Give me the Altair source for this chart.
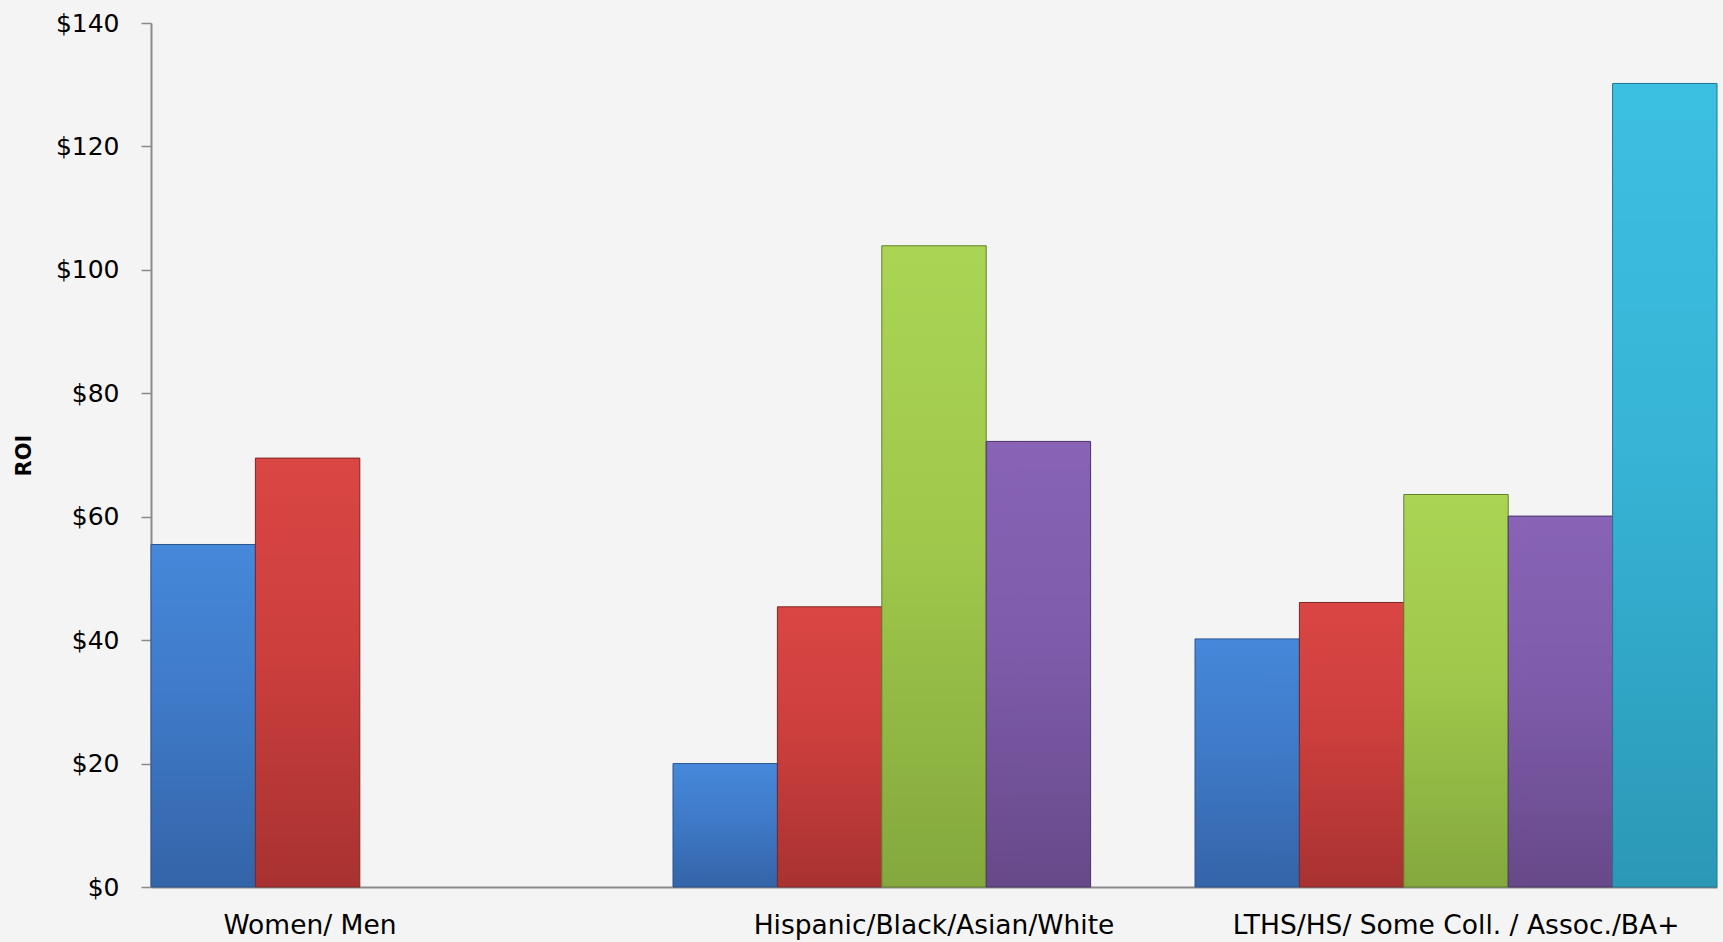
import altair as alt
import pandas as pd

groups = ["Women/ Men", "Hispanic/Black/Asian/White", "LTHS/HS/ Some Coll. / Assoc./BA+"]
slots = [1, 2, 3, 4, 5]
g1_values = [55.5, 69.5]
g2_values = [20.0, 45.4, 103.9, 72.2]
g3_values = [40.2, 46.1, 63.6, 60.1, 130.2]

# gradient colours per series slot (top, middle, bottom) and edge colours
top_colors = ["#4688da", "#da4644", "#aad454", "#8863b6", "#3cc0e2"]
mid_colors = ["#3f7ac8", "#cc3f3d", "#a0c94c", "#7f5cab", "#37b4d6"]
bottom_colors = ["#3464a8", "#a83231", "#84a83d", "#674989", "#2b98b6"]
edge_colors = ["#2a558f", "#7e2626", "#62802a", "#4c3468", "#1f7590"]

rows = []
for g, vals in zip(groups, [g1_values, g2_values, g3_values]):
    for s, v in zip(slots, vals):
        rows.append({"group": g, "slot": s, "value": v})
df = pd.DataFrame(rows)

x_enc = alt.X(
    "group:N",
    sort=groups,
    scale=alt.Scale(domain=groups, paddingInner=0, paddingOuter=0),
    axis=alt.Axis(
        title=None,
        ticks=False,
        tickSize=0,
        domainColor="#8a8a8a",
        domainWidth=2,
        labelFont="DejaVu Sans",
        labelFontSize=26.5,
        labelColor="#000000",
        labelPadding=25,
        labelAngle=0,
        labelLimit=0,
        labelOffset={"condition": {"test": "datum.value === 'Women/ Men'", "value": -102}, "value": 0},
    ),
)
y_enc = alt.Y(
    "value:Q",
    scale=alt.Scale(domain=[0, 140], nice=False),
    axis=alt.Axis(
        values=[0, 20, 40, 60, 80, 100, 120, 140],
        labelExpr="'$' + datum.value",
        grid=False,
        tickSize=10,
        tickColor="#8a8a8a",
        tickWidth=1.5,
        domainColor="#8a8a8a",
        domainWidth=2,
        labelFont="DejaVu Sans",
        labelFontSize=25,
        labelColor="#000000",
        labelPadding=22,
        title="ROI",
        titleFont="DejaVu Sans",
        titleFontSize=21,
        titleFontWeight="bold",
        titleColor="#000000",
        titleAngle=270,
        titleX=-127,
        titleY=432,
        titleAlign="center",
        titleBaseline="middle",
    ),
)
xoff_enc = alt.XOffset("slot:O", scale=alt.Scale(domain=slots, padding=0))

layers = []
for i, s in enumerate(slots):
    grad = alt.Gradient(
        gradient="linear",
        stops=[
            alt.GradientStop(color=top_colors[i], offset=0),
            alt.GradientStop(color=mid_colors[i], offset=0.45),
            alt.GradientStop(color=bottom_colors[i], offset=1),
        ],
        x1=0, x2=0, y1=0, y2=1,
    )
    layer = (
        alt.Chart(df)
        .transform_filter(alt.datum.slot == s)
        .mark_bar(color=grad, stroke=edge_colors[i], strokeWidth=1)
        .encode(x=x_enc, y=y_enc, xOffset=xoff_enc)
    )
    layers.append(layer)

chart = (
    alt.layer(*layers)
    .properties(
        width=1566,
        height=864,
        autosize=alt.AutoSizeParams(type="none"),
        padding={"left": 151, "top": 23, "right": 6, "bottom": 55},
        background="#f3f4f3",
    )
    .configure_view(stroke=None)
)

chart.save("out.html", embed_options={"renderer": "svg", "actions": False})
